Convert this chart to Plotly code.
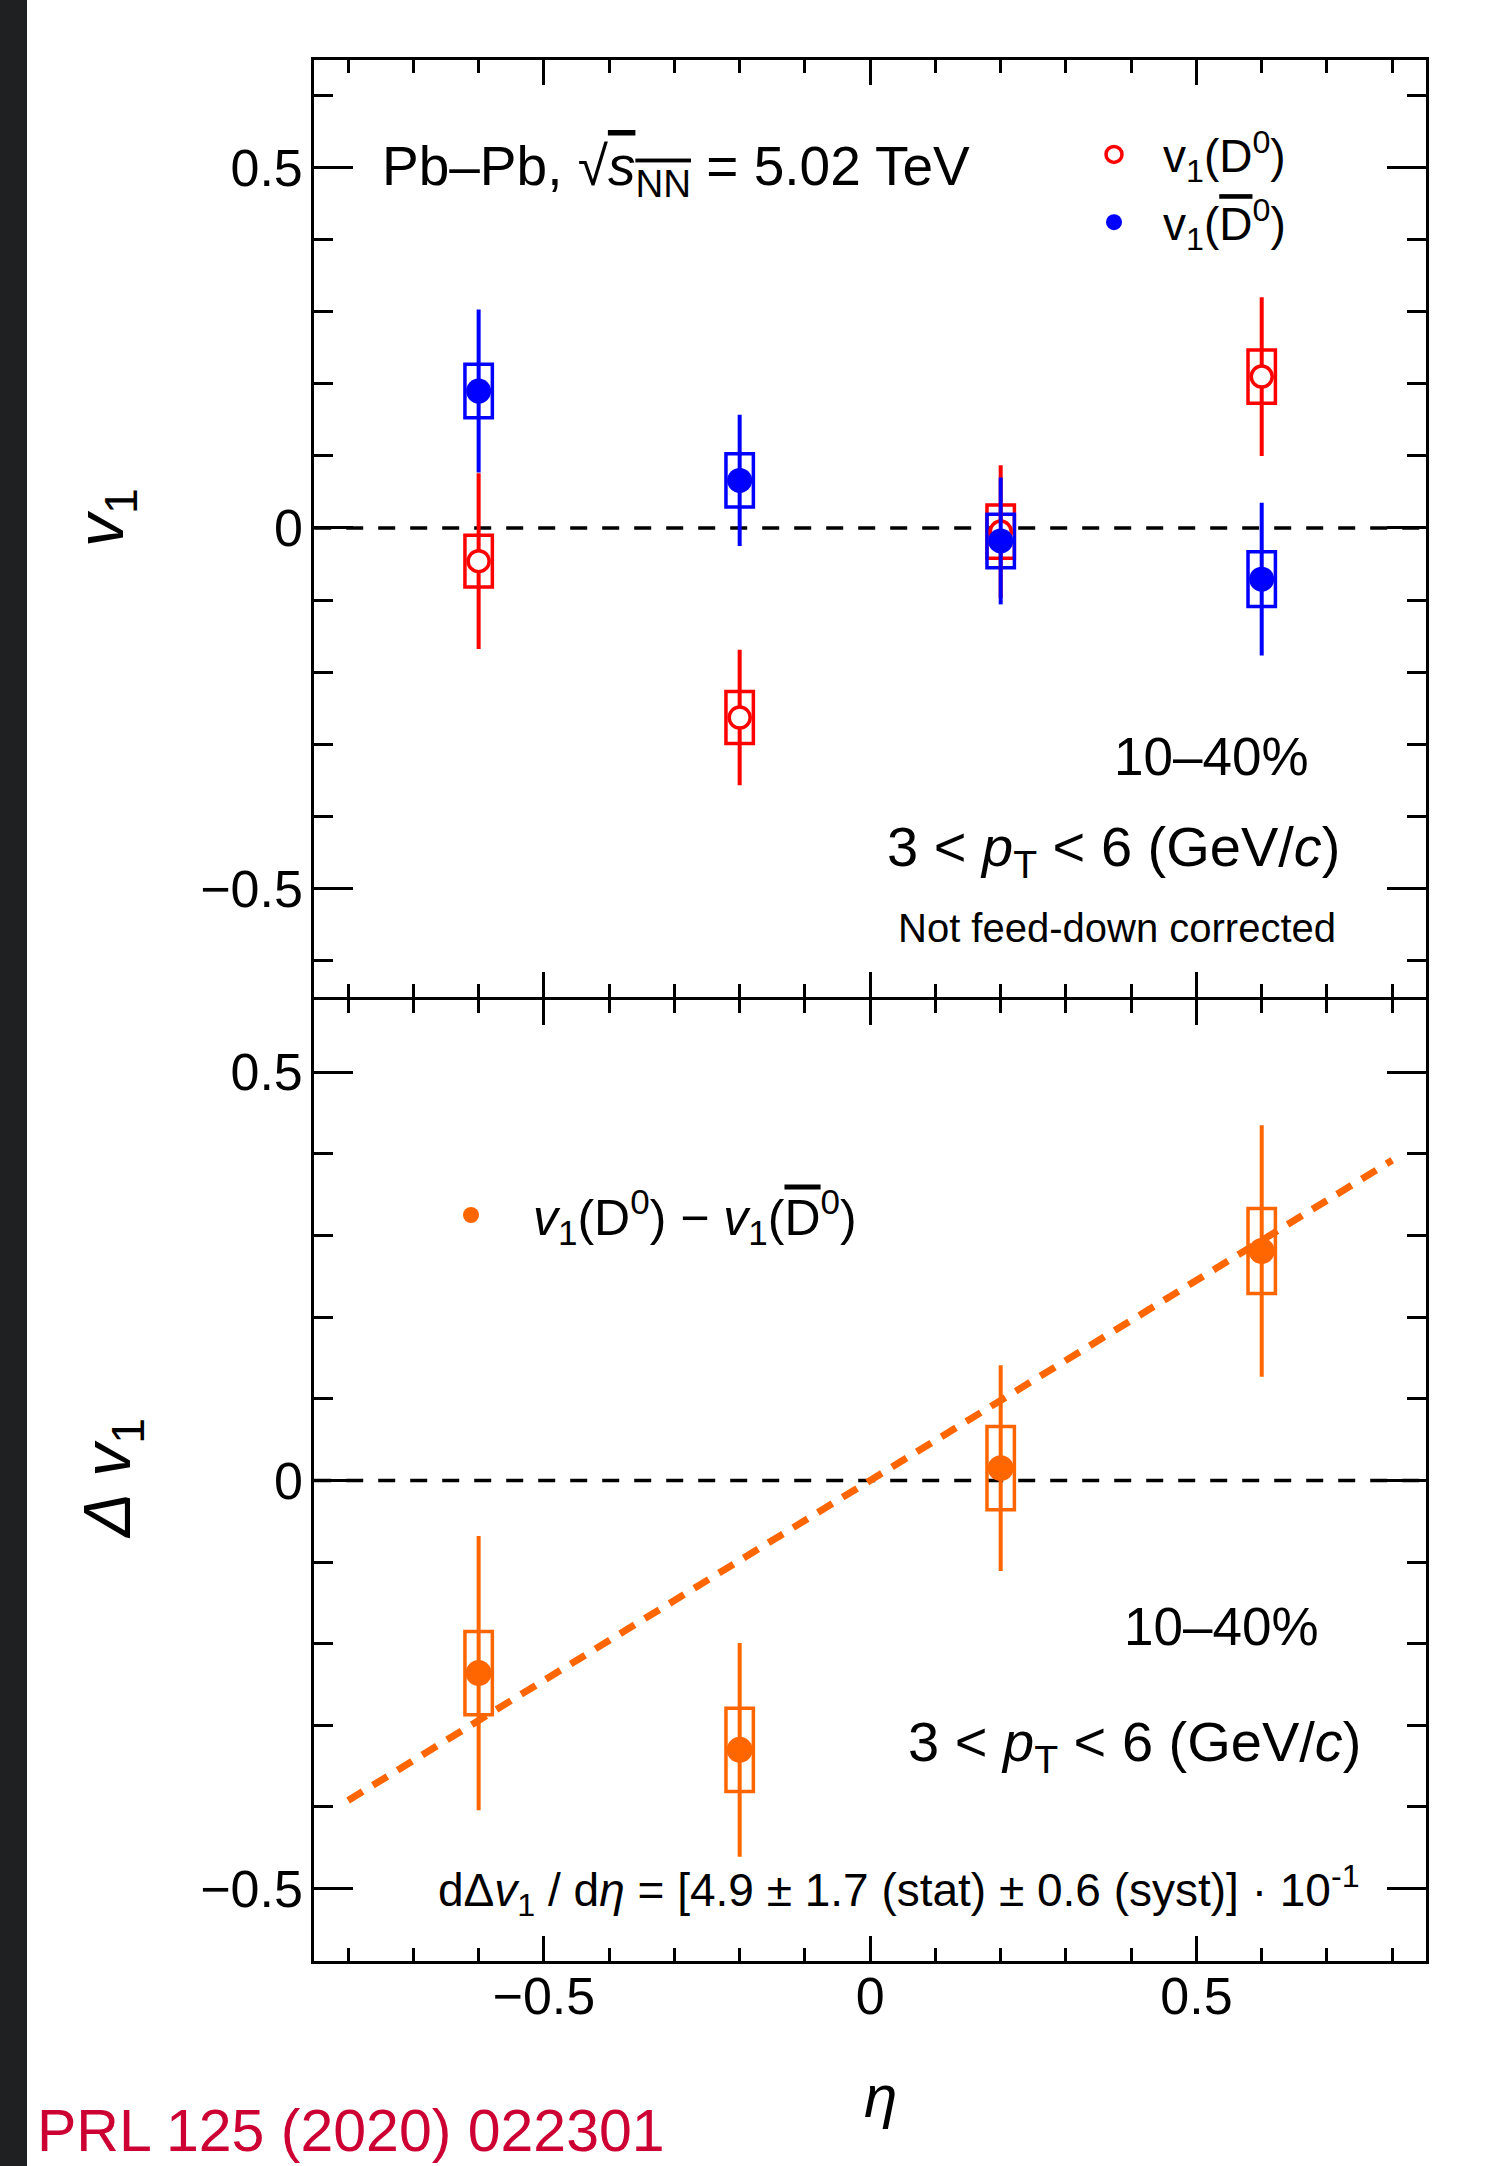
import plotly.graph_objects as go

W, H = 1496, 2166

# ---------------- data ----------------
eta = [-0.6, -0.2, 0.2, 0.6]

v1_D0 = [-0.046, -0.263, -0.005, 0.210]
v1_D0_stat = [0.122, 0.094, 0.092, 0.110]
v1_D0_syst = [0.036, 0.036, 0.037, 0.037]

v1_D0bar = [0.190, 0.066, -0.018, -0.071]
v1_D0bar_stat = [0.113, 0.091, 0.088, 0.106]
v1_D0bar_syst = [0.037, 0.037, 0.037, 0.038]

dv1 = [-0.236, -0.330, 0.015, 0.281]
dv1_stat = [0.168, 0.131, 0.126, 0.154]
dv1_syst = [0.051, 0.051, 0.051, 0.052]

fit_slope = 0.49          # d(delta v1)/d(eta)
fit_eta_range = [-0.8, 0.8]

x_ticks = [-0.5, 0, 0.5]

# ---------------- style ----------------
RED = "#ff0000"
BLUE = "#0000ff"
ORANGE = "#ff6600"
FONT = "Liberation Sans, Arial, Helvetica, sans-serif"
BOX_HW = 0.021  # half width of systematic boxes (in eta units)

def px(xp):
    return xp / W

def py(yp):
    return 1 - yp / H

XDOM = [px(314.2), px(1425.5)]
YDOM_TOP = [py(996.5), py(60.2)]
YDOM_BOT = [py(1961.3), py(999.5)]

fig = go.Figure()

# fit line (bottom panel)
fit_x = list(fit_eta_range)
fit_y = [fit_slope * x for x in fit_x]
fig.add_trace(go.Scatter(
    x=fit_x, y=fit_y, mode="lines", xaxis="x", yaxis="y",
    line=dict(color=ORANGE, width=7, dash="17px,12px"),
    showlegend=False, hoverinfo="skip"))

# top panel: D0 (open red) and D0bar (full blue)
fig.add_trace(go.Scatter(
    x=eta, y=v1_D0, mode="markers", xaxis="x2", yaxis="y2",
    name="v<sub>1</sub>(D<sup>0</sup>)", legend="legend", legendgroup="a",
    marker=dict(symbol="circle", size=21, color="white", line=dict(color=RED, width=3.5)),
    error_y=dict(type="data", array=v1_D0_stat, color=RED, thickness=4, width=0)))
fig.add_trace(go.Scatter(
    x=eta, y=v1_D0bar, mode="markers", xaxis="x2", yaxis="y2",
    name="v<sub>1</sub>(<span style='text-decoration:overline'>D</span><sup>0</sup>)",
    legend="legend", legendgroup="b",
    marker=dict(symbol="circle", size=25, color=BLUE, line=dict(width=0)),
    error_y=dict(type="data", array=v1_D0bar_stat, color=BLUE, thickness=4, width=0)))

# bottom panel: difference
fig.add_trace(go.Scatter(
    x=eta, y=dv1, mode="markers", xaxis="x", yaxis="y",
    name="<i>v</i><sub>1</sub>(D<sup>0</sup>) \u2212 <i>v</i><sub>1</sub>(<span style='text-decoration:overline'>D</span><sup>0</sup>)",
    legend="legend2",
    marker=dict(symbol="circle", size=26, color=ORANGE, line=dict(width=0)),
    error_y=dict(type="data", array=dv1_stat, color=ORANGE, thickness=4, width=0)))

shapes = []
# systematic boxes
for vals, systs, col, xr, yr in [
        (v1_D0, v1_D0_syst, RED, "x2", "y2"),
        (v1_D0bar, v1_D0bar_syst, BLUE, "x2", "y2"),
        (dv1, dv1_syst, ORANGE, "x", "y")]:
    for e, v, s in zip(eta, vals, systs):
        shapes.append(dict(type="rect", xref=xr, yref=yr,
                           x0=e - BOX_HW, x1=e + BOX_HW, y0=v - s, y1=v + s,
                           line=dict(color=col, width=3.5), fillcolor="rgba(0,0,0,0)",
                           layer="below"))
# zero lines
for xr, yr in [("x2 domain", "y2"), ("x domain", "y")]:
    shapes.append(dict(type="line", xref=xr, yref=yr, x0=0, x1=1, y0=0, y1=0,
                       line=dict(color="black", width=3.5, dash="17px,15px"), layer="below"))
# dark strip on the left edge
shapes.append(dict(type="rect", xref="paper", yref="paper", x0=0, x1=px(27), y0=0, y1=1,
                   fillcolor="#1f2022", line=dict(width=0), layer="above"))

axis_common = dict(
    showline=True, linecolor="black", linewidth=3, mirror="allticks",
    ticks="inside", tickwidth=3, tickcolor="black",
    showgrid=False, zeroline=False,
    tickfont=dict(family=FONT, size=52, color="black"),
)

xcommon = dict(axis_common, range=[-0.852, 0.851], tickvals=x_ticks, ticklen=25,
               minor=dict(dtick=0.1, tick0=0, ticklen=13, ticks="inside", tickwidth=3,
                          tickcolor="black", showgrid=False),
               domain=XDOM)
ycommon = dict(axis_common, dtick=0.5, tick0=0, ticklen=39,
               minor=dict(dtick=0.1, tick0=0, ticklen=19, ticks="inside", tickwidth=3,
                          tickcolor="black", showgrid=False))

annotations = []
def ann(text, x, y, size, xanchor="left", yanchor="middle", color="black", angle=0):
    annotations.append(dict(text=text, x=px(x), y=py(y), xref="paper", yref="paper",
                            xanchor=xanchor, yanchor=yanchor, showarrow=False,
                            textangle=angle,
                            font=dict(family=FONT, size=size, color=color)))

ann("Pb\u2013Pb, \u221A<span style='text-decoration:overline'><i>s</i><sub>NN</sub></span> = 5.02 TeV", 380, 170, 55)
ann("10\u201340%", 1112, 756, 53)
ann("3 &lt; <i>p</i><sub>T</sub> &lt; 6 (GeV/<i>c</i>)", 885, 850, 56)
ann("Not feed-down corrected", 896, 928, 40)
ann("10\u201340%", 1122, 1626, 53)
ann("3 &lt; <i>p</i><sub>T</sub> &lt; 6 (GeV/<i>c</i>)", 906, 1745, 56)
ann("d\u0394<i>v</i><sub>1</sub> / d<i>\u03b7</i> = [4.9 \u00b1 1.7 (stat) \u00b1 0.6 (syst)] \u00b7 10<sup>-1</sup>",
    436, 1890, 46)
ann("<i>v</i><sub>1</sub>", 105, 518, 66, xanchor="center", angle=-90)
ann("<i>\u0394 v</i><sub>1</sub>", 112, 1478, 66, xanchor="center", angle=-90)
ann("<i>\u03b7</i>", 880, 2096, 60, xanchor="center")
ann("PRL 125 (2020) 022301", 35, 2131, 59, color="#cc0033")

fig.update_layout(
    width=W, height=H,
    margin=dict(l=0, r=0, t=0, b=0),
    paper_bgcolor="white", plot_bgcolor="white",
    font=dict(family=FONT, color="black"),
    xaxis=dict(xcommon, anchor="y", showticklabels=True, ticklabelstandoff=-13),
    xaxis2=dict(xcommon, anchor="y2", matches="x", showticklabels=False),
    yaxis=dict(ycommon, domain=YDOM_BOT, range=[-0.589, 0.589], anchor="x", ticklabelstandoff=-2),
    yaxis2=dict(ycommon, domain=YDOM_TOP, range=[-0.650, 0.649], anchor="x2", ticklabelstandoff=-2),
    shapes=shapes,
    annotations=annotations,
    legend=dict(x=px(1065), y=py(118), xanchor="left", yanchor="top",
                bgcolor="rgba(0,0,0,0)", borderwidth=0,
                font=dict(family=FONT, size=46, color="black"),
                itemwidth=88, tracegroupgap=5, traceorder="grouped"),
    legend2=dict(x=px(409), y=py(1176), xanchor="left", yanchor="top",
                 bgcolor="rgba(0,0,0,0)", borderwidth=0,
                 font=dict(family=FONT, size=50, color="black"),
                 itemwidth=114),
    showlegend=True,
)

fig.write_html("out.html", post_script="document.body.style.margin='0px';",
               config={"displayModeBar": False})
